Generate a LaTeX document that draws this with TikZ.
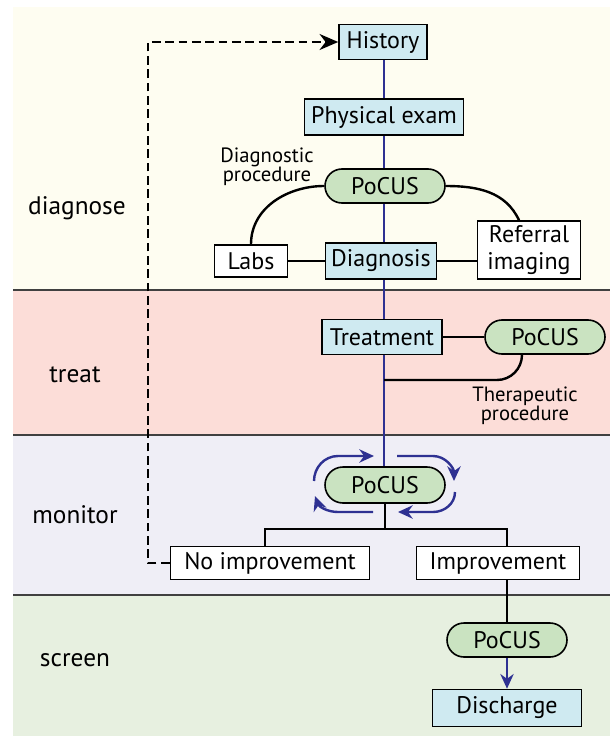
\documentclass[tikz,border=0pt]{standalone}
\usepackage{fontspec}
\setmainfont{PT Sans}
\usetikzlibrary{positioning, arrows.meta, shapes.misc}

\definecolor{bgdiag}{HTML}{FEFDF1}
\definecolor{bgtreat}{HTML}{FCDDD8}
\definecolor{bgmon}{HTML}{EFEEF6}
\definecolor{bgscreen}{HTML}{E7F0E0}
\definecolor{boxblue}{HTML}{CFEAF1}
\definecolor{pillgreen}{HTML}{CAE3C1}
\definecolor{flowblue}{HTML}{2E3192}

\begin{document}
\begin{tikzpicture}[
  x=0.75pt, y=-0.75pt,
  thick,
  bluebox/.style n args={2}{
    draw,
    fill=boxblue,
    line width=1.2pt,
    inner sep=0pt,
    minimum width=#1*0.75pt,
    minimum height=#2*0.75pt,
    font=\fontsize{18}{20}\selectfont
    },
  whitebox/.style n args={2}{
    bluebox={#1}{#2},
    fill=white,
    align=center
    },
  pill/.style={
    draw,
    fill=pillgreen,
    rounded rectangle,
    line width=1.2pt,
    inner sep=0pt,
    minimum width=120*0.75pt,
    minimum height=34*0.75pt,
    font=\fontsize{18}{20}\selectfont
    },
  band/.style={font=\fontsize{19}{21}\selectfont},
  note/.style={align=center, font=\fontsize{15.5}{17}\selectfont},
  link/.style={line width=1.8pt},
  cycle/.style={flowblue, line width=1.8pt, -{Stealth[length=11pt, width=10pt]}}
]
\useasboundingbox (0,0) rectangle (610,738);

% background bands
\fill[bgdiag]   (13,7)   rectangle (610,290);
\fill[bgtreat]  (13,290) rectangle (610,435);
\fill[bgmon]    (13,435) rectangle (610,595);
\fill[bgscreen] (13,595) rectangle (610,736);
\foreach \yy in {290,435,595}
  \draw[black!75, line width=1pt] (13,\yy) -- (610,\yy);

\node[band] (ldiag)   at (77,208) {diagnose};
\node[band] (ltreat)  at (75,375) {treat};
\node[band] (lmon)    at (75,515) {monitor};
\node[band] (lscreen) at (75,660) {screen};

% main line
\coordinate (top) at (384,60);
\coordinate (bot) at (384,467);
\draw[flowblue, line width=1.6pt] (top) -- (bot);

% diagnose
\node[bluebox={88}{35}] (history) at (383,42) {History};
\node[bluebox={159}{36}] (exam) at (384,117) {Physical exam};
\node[pill] (pocusd) at (385,186) {PoCUS};
\node[note] (diagproc) at (267,167) {Diagnostic\\[-3pt]procedure};
\node[whitebox={73}{32}] (labs) at (251,261) {Labs};
\node[bluebox={111}{36}] (diagnosis) at (381,261) {Diagnosis};
\node[whitebox={103}{58}, font=\fontsize{18}{20}\selectfont] (referral) at (529,250) {Referral\\imaging};

\draw[link] (pocusd.west) to[out=180,in=90] (labs.north);
\draw[link] (pocusd.east) to[out=0,in=115] ([xshift=-7.5pt]referral.north);
\draw[link] (labs) -- (diagnosis);
\draw[link] (diagnosis) -- (referral.west |- diagnosis);

% treat
\node[bluebox={120}{35}] (treatment) at (382,337) {Treatment};
\node[pill] (pocust) at (545,337) {PoCUS};
\node[note] (therproc) at (525,406) {Therapeutic\\[-3pt]procedure};
\coordinate (tjoin) at (384,380);
\draw[link] (treatment) -- (pocust);
\draw[link] (tjoin) -- (497,380) to[out=0,in=270] ([xshift=-17.25pt]pocust.south);

% monitor
\node[pill, minimum height=36*0.75pt] (pocusm) at (385,485) {PoCUS};
\node[whitebox={199}{33}] (noimp) at (270,563) {No improvement};
\node[whitebox={163}{33}] (imp) at (498,563) {Improvement};
\coordinate (split) at (385,529);
\draw[link] (pocusm.south) -- (split);
\draw[link] (split) -| ([xshift=-3.75pt]noimp.north);
\draw[link] (split) -| ([xshift=6.75pt]imp.north);

\draw[cycle] (314,481) to[out=90,in=180] (338,456) -- (374,456);
\draw[cycle] (397,456) -- (433,456) to[out=0,in=90] (454,481);
\draw[cycle] (455,492) to[out=270,in=0] (433,512) -- (398,512);
\draw[cycle] (373,512) -- (338,512) to[out=180,in=290] (315,496);

% back to history
\coordinate (loopa) at (148,563);
\coordinate (loopb) at (148,42);
\draw[dashed, line width=1.7pt, dash pattern=on 6.5pt off 3.5pt, -{Stealth[length=14pt, width=12pt]}]
  (noimp.west) -- (loopa) -- (loopb) -- (history.west);

% screen
\node[pill] (pocuss) at (507,640) {PoCUS};
\node[bluebox={149}{37}] (discharge) at (507,708) {Discharge};
\draw[link] ([xshift=6.75pt]imp.south) -- (pocuss.north);
\draw[flowblue, line width=1.6pt, -{Stealth[length=11pt, width=10pt]}] (pocuss.south) -- (discharge.north);

\end{tikzpicture}
\end{document}
